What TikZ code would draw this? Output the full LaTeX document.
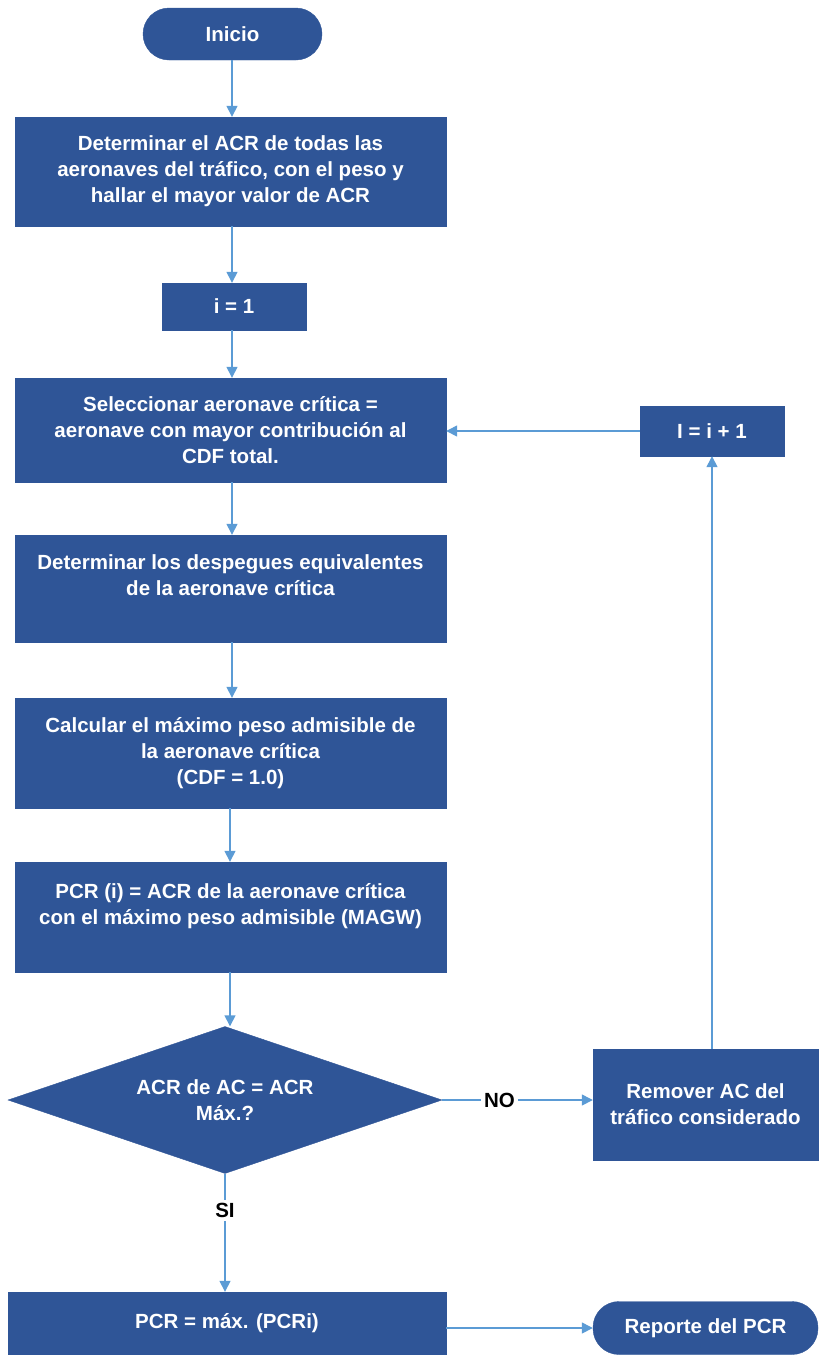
\documentclass[tikz,border=0pt]{standalone}
\usepackage{fontspec}
\setmainfont{Liberation Sans}
\usetikzlibrary{shapes.geometric,arrows.meta}
\definecolor{boxblue}{HTML}{2F5597}
\definecolor{arrowblue}{HTML}{5B9BD5}
\tikzset{
  box/.style={draw=boxblue, fill=boxblue, text=white, font=\bfseries\fontsize{20.5}{26}\selectfont, align=center, inner sep=0pt, rectangle},
  pill/.style={box, rounded corners=26pt},
  decision/.style={box, diamond, aspect=3},
  conn/.style={draw=arrowblue, line width=1.4pt, -{Triangle[length=11pt,width=11pt]}},
  lbl/.style={fill=white, text=black, font=\bfseries\fontsize{20.5}{24}\selectfont, inner sep=3pt}
}
\begin{document}
\begin{tikzpicture}[x=1pt,y=-1pt]
\useasboundingbox (0,0) rectangle (819,1355);
\node[pill, minimum width=179pt, minimum height=52pt] (ini) at (232.5,34) {Inicio};
\node[box, minimum width=431pt, minimum height=109pt] (b1) at (230.5,171.5) {Determinar el ACR de todas las\\aeronaves del tráfico, con el peso y\\hallar el mayor valor de ACR};
\node[box, minimum width=144pt, minimum height=47pt] (i1) at (234,306.5) {i = 1};
\node[box, minimum width=431pt, minimum height=104pt] (b3) at (230.5,430) {Seleccionar aeronave crítica =\\aeronave con mayor contribución al\\CDF total.};
\node[box, minimum width=144pt, minimum height=50pt] (inc) at (712,431) {I = i + 1};
\node[box, minimum width=431pt, minimum height=107pt] (b4) at (230.5,588.5) {Determinar los despegues equivalentes\\de la aeronave crítica\\\mbox{}};
\node[box, minimum width=431pt, minimum height=110pt] (b5) at (230.5,753) {Calcular el máximo peso admisible de\\la aeronave crítica\\(CDF = 1.0)};
\node[box, minimum width=431pt, minimum height=110pt] (b6) at (230.5,917) {PCR (i) = ACR de la aeronave crítica\\con el máximo peso admisible (MAGW)\\\mbox{}};
\node[decision, minimum width=434pt, minimum height=147pt] (dec) at (225,1100) {ACR de AC = ACR\\Máx.?};
\node[box, minimum width=225pt, minimum height=111pt] (rem) at (705.5,1104.5) {Remover AC del\\tráfico considerado};
\node[box, minimum width=438pt, minimum height=63pt] (pcr) at (227,1323.5) {PCR = máx. (PCRi)};
\node[pill, minimum width=225pt, minimum height=53pt] (rep) at (705.5,1328) {Reporte del PCR};

\draw[conn] (ini.south -| 232,0) -- (b1.north -| 232,0);
\draw[conn] (b1.south -| 232,0) -- (i1.north -| 232,0);
\draw[conn] (i1.south -| 232,0) -- (b3.north -| 232,0);
\draw[conn] (b3.south -| 232,0) -- (b4.north -| 232,0);
\draw[conn] (b4.south -| 232,0) -- (b5.north -| 232,0);
\draw[conn] (b5.south -| 230,0) -- (b6.north -| 230,0);
\draw[conn] (b6.south -| 230,0) -- (dec.north -| 230,0);
\draw[conn] (dec.east) -- node[lbl, pos=0.38] {NO} (rem.west |- dec.east);
\draw[conn] (rem.north -| inc.south) -- (inc.south);
\draw[conn] (inc.west) -- (b3.east |- inc.west);
\draw[conn] (dec.south) -- node[lbl, pos=0.31] {SI} (pcr.north -| dec.south);
\draw[conn] (pcr.east |- rep.west) -- (rep.west);
\end{tikzpicture}
\end{document}
